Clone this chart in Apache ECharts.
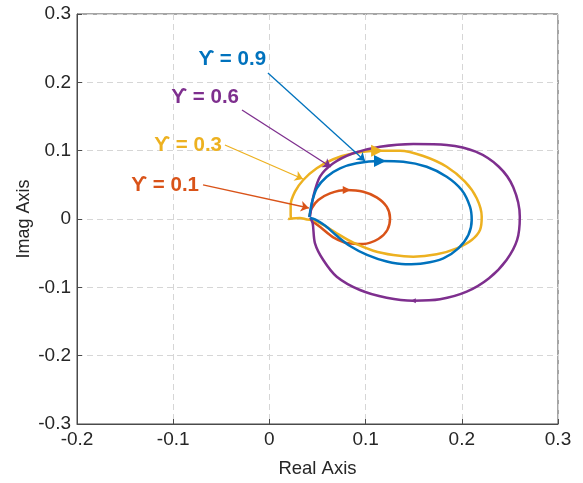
<!DOCTYPE html>
<html>
<head>
<meta charset="utf-8">
<script src="https://cdn.jsdelivr.net/npm/echarts@6/dist/echarts.min.js"></script>
<style>
  html, body { margin: 0; padding: 0; background: #fff; }
  #chart { width: 583px; height: 483px; }
</style>
</head>
<body>
<div id="chart"></div>
<script>
// Loci in the complex plane, one per gamma value: [real, imag] pairs, traced clockwise.
const locus09 = [
  [0.0415, 0.0025], [0.044, 0.023], [0.0492, 0.0449], [0.0596, 0.0619], [0.0734, 0.0742],
  [0.0907, 0.0815], [0.115, 0.0849], [0.1392, 0.0839], [0.1635, 0.0765], [0.1843, 0.0619],
  [0.1999, 0.0424], [0.2085, 0.018], [0.2103, -0.0015], [0.2068, -0.0234], [0.1964, -0.0429],
  [0.1808, -0.0575], [0.1605, -0.0648], [0.1415, -0.0662], [0.122, -0.0622], [0.1015, -0.0525],
  [0.0838, -0.0395], [0.07, -0.0245], [0.0578, -0.0095], [0.0474, -0.0006], [0.0425, 0.0015]
];
const locus06 = [
  [0.0422, 0.0034], [0.0456, 0.0326], [0.0526, 0.0619], [0.0664, 0.0815], [0.0872, 0.0962],
  [0.115, 0.1058], [0.1496, 0.1098], [0.1843, 0.1083], [0.2145, 0.0985], [0.2385, 0.0765],
  [0.2535, 0.0465], [0.2603, 0.0034], [0.2575, -0.0307], [0.2465, -0.06], [0.2283, -0.0868],
  [0.2051, -0.1064], [0.1773, -0.1175], [0.1496, -0.1196], [0.1219, -0.1152], [0.0942, -0.1039],
  [0.07, -0.0844], [0.056, -0.06], [0.0474, -0.0356], [0.045, -0.0063], [0.0425, 0.002]
];
const locus03 = [
  [0.0225, 0.0], [0.0221, 0.0059], [0.0221, 0.0205], [0.0266, 0.04], [0.0352, 0.0571],
  [0.0492, 0.0742], [0.0664, 0.0874], [0.0872, 0.0962], [0.1115, 0.1], [0.1358, 0.1],
  [0.16, 0.0922], [0.1843, 0.0765], [0.2033, 0.0546], [0.2155, 0.0303], [0.2207, 0.0034],
  [0.2189, -0.0161], [0.2103, -0.0307], [0.1947, -0.0429], [0.1739, -0.0517], [0.1496, -0.0552],
  [0.1288, -0.0527], [0.108, -0.0464], [0.0872, -0.0347], [0.07, -0.0209], [0.056, -0.0088],
  [0.0456, -0.0015], [0.0391, -0.0007], [0.0318, 0.0015], [0.0195, 0.0]
];
const locus01 = [
  [0.0415, 0.0034], [0.044, 0.0156], [0.0508, 0.0278], [0.063, 0.0376], [0.0804, 0.0424],
  [0.0976, 0.04], [0.1115, 0.0317], [0.1219, 0.018], [0.1254, 0.001], [0.1226, -0.0161],
  [0.1132, -0.0293], [0.0976, -0.0366], [0.082, -0.0356], [0.0664, -0.0268], [0.0544, -0.0136],
  [0.0456, -0.004], [0.0418, 0.001]
];

// Direction markers on each locus: [real, imag, rotation in degrees]
const heading09 = [0.115, 0.0849, -90];
const heading06 = [0.1496, -0.1196, 90];
const heading03 = [0.112, 0.1, -90];
const heading01 = [0.0804, 0.0424, -90];

// Callout texts, the point where each text ends, and the pointer from text to curve
const calloutText = ['ϒ = 0.9', 'ϒ = 0.6', 'ϒ = 0.3', 'ϒ = 0.1'];
const calloutAnchor = [[-0.0035, 0.2342], [-0.0316, 0.1785], [-0.0493, 0.1083], [-0.0732, 0.0498]];
const calloutFrom = [[-0.0015, 0.2137], [-0.0285, 0.1595], [-0.0462, 0.1083], [-0.069, 0.0498]];
const calloutTo = [[0.0994, 0.0849], [0.064, 0.0761], [0.0349, 0.0585], [0.041, 0.0161]];

// Axis ticks
const realTicks = [-0.2, -0.1, 0, 0.1, 0.2, 0.3];
const imagTicks = [-0.3, -0.2, -0.1, 0, 0.1, 0.2, 0.3];

const colors = ['#0072BD', '#7E2F8E', '#EDB120', '#D95319'];
const loci = [locus09, locus06, locus03, locus01];
const headings = [heading09, heading06, heading03, heading01];
const headSizes = [12, 5, 12, 8];

const FONT = '"Liberation Sans", Arial, Helvetica, sans-serif';

const series = [];
loci.forEach((pts, i) => {
  series.push({
    type: 'line',
    data: pts,
    showSymbol: false,
    symbol: 'none',
    smooth: 0.3,
    lineStyle: { color: colors[i], width: 2.5, opacity: 1 },
    z: 3 + (3 - i),
    animation: false
  });
});
headings.forEach((h, i) => {
  series.push({
    type: 'scatter',
    data: [[h[0], h[1]]],
    symbol: 'triangle',
    symbolSize: headSizes[i],
    symbolRotate: h[2],
    itemStyle: { color: colors[i], opacity: 1 },
    z: 8,
    animation: false
  });
});
series.push({
  type: 'lines',
  coordinateSystem: 'cartesian2d',
  symbol: ['none', 'arrow'],
  symbolSize: 8,
  data: calloutFrom.map((p, i) => ({
    coords: [p, calloutTo[i]],
    lineStyle: { color: colors[i], width: 1.3, opacity: 1 }
  })),
  lineStyle: { opacity: 1, curveness: 0 },
  z: 9,
  animation: false
});
series.push({
  type: 'scatter',
  data: calloutAnchor.map((p, i) => ({
    value: p,
    label: {
      show: true,
      position: 'left',
      distance: 0,
      formatter: calloutText[i],
      color: colors[i],
      fontFamily: FONT,
      fontWeight: 'bold',
      fontSize: 20.5
    }
  })),
  symbolSize: 0,
  itemStyle: { opacity: 1 },
  z: 10,
  animation: false
});

const chart = echarts.init(document.getElementById('chart'), null, { renderer: 'canvas' });
chart.setOption({
  backgroundColor: '#fff',
  animation: false,
  grid: {
    left: 77, right: 25, top: 14, bottom: 59,
    show: true, borderColor: '#4a4a4a', borderWidth: 1, backgroundColor: 'transparent'
  },
  xAxis: {
    type: 'value',
    min: realTicks[0], max: realTicks[realTicks.length - 1], interval: 0.1,
    name: 'Real Axis', nameLocation: 'middle', nameGap: 35, nameMoveOverlap: false,
    nameTextStyle: { fontFamily: FONT, fontSize: 18.5, color: '#262626' },
    axisLine: { show: true, onZero: false, lineStyle: { color: '#4a4a4a' } },
    axisTick: { show: true, inside: true, length: 5, lineStyle: { color: '#4a4a4a' } },
    axisLabel: {
      fontFamily: FONT, fontSize: 19, color: '#262626', margin: 6,
      formatter: v => String(Math.round(v * 10) / 10)
    },
    splitLine: { show: true, lineStyle: { color: '#d6d6d6', type: [6, 4], width: 1 } }
  },
  yAxis: {
    type: 'value',
    min: imagTicks[0], max: imagTicks[imagTicks.length - 1], interval: 0.1,
    name: 'Imag Axis', nameLocation: 'middle', nameGap: 44, nameRotate: 90, nameMoveOverlap: false,
    nameTextStyle: { fontFamily: FONT, fontSize: 18, color: '#262626' },
    axisLine: { show: true, onZero: false, lineStyle: { color: '#4a4a4a' } },
    axisTick: { show: true, inside: true, length: 5, lineStyle: { color: '#4a4a4a' } },
    axisLabel: {
      fontFamily: FONT, fontSize: 19, color: '#262626', margin: 6,
      formatter: v => String(Math.round(v * 10) / 10)
    },
    splitLine: { show: true, lineStyle: { color: '#d6d6d6', type: [6, 4], width: 1 } }
  },
  series: series
});
</script>
</body>
</html>
